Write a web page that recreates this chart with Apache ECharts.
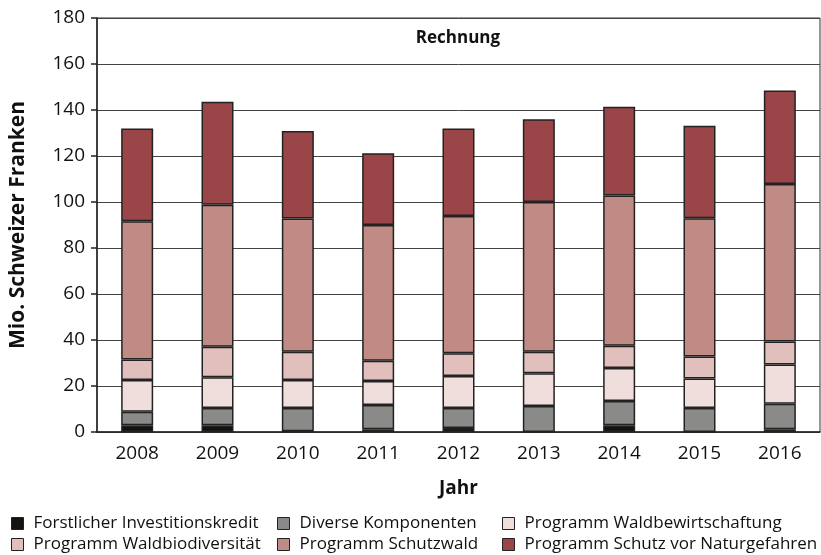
<!DOCTYPE html>
<html>
<head>
<meta charset="utf-8">
<script src="https://cdn.jsdelivr.net/npm/echarts@6/dist/echarts.min.js"></script>
<style>
  html, body { margin: 0; padding: 0; background: #fff; }
  #chart { width: 821px; height: 555px; }
</style>
</head>
<body>
<div id="chart"></div>
<script>
const years = ['2008', '2009', '2010', '2011', '2012', '2013', '2014', '2015', '2016'];
const investitionskredit = [2.9, 2.9, 0.3, 1.2, 1.7, 0, 2.9, 0, 1.2];
const diverse = [5.9, 7.5, 10.1, 10.5, 8.7, 11.3, 10.6, 10.4, 11.1];
const waldbewirtschaftung = [13.8, 13.4, 12.2, 10.5, 13.9, 14.2, 14.3, 12.9, 17.0];
const waldbiodiversitaet = [8.9, 13.3, 12.3, 8.8, 9.9, 9.4, 9.7, 9.5, 10.0];
const schutzwald = [60.1, 61.7, 57.9, 59.0, 59.7, 65.1, 65.3, 60.1, 68.5];
const naturgefahren = [40.4, 44.8, 38.1, 31.2, 38.1, 36.0, 38.6, 40.3, 40.7];

const font = '"Open Sans", sans-serif';
const chart = echarts.init(document.getElementById('chart'));

const seriesDefs = [
  { name: 'Forstlicher Investitionskredit', data: investitionskredit, color: '#13130f' },
  { name: 'Diverse Komponenten', data: diverse, color: '#8a8b89' },
  { name: 'Programm Waldbewirtschaftung', data: waldbewirtschaftung, color: '#f0dedd' },
  { name: 'Programm Waldbiodiversität', data: waldbiodiversitaet, color: '#e0bfbd' },
  { name: 'Programm Schutzwald', data: schutzwald, color: '#c08a85' },
  { name: 'Programm Schutz vor Naturgefahren', data: naturgefahren, color: '#9a4548' }
];

// legend grid: 3 columns x 2 rows, one legend per item
const legendCols = [11, 277, 502];
const legendRows = [515, 536];

const legends = seriesDefs.map((s, i) => ({
  left: legendCols[i % 3],
  top: legendRows[i < 3 ? 0 : 1],
  padding: 0,
  itemWidth: 12,
  itemHeight: 12,
  icon: 'rect',
  data: [s.name],
  textStyle: { fontFamily: font, fontSize: 17, color: '#111', padding: [0, 0, 0, 5] },
  itemStyle: { borderColor: '#222', borderWidth: 1 }
}));

chart.setOption({
  animation: false,
  title: {
    text: 'Rechnung',
    left: 453,
    top: 25,
    textAlign: 'center',
    textStyle: { fontFamily: font, fontSize: 17, fontWeight: 'bold', color: '#111' }
  },
  legend: legends,
  grid: {
    left: 93,
    right: 1,
    top: 18,
    bottom: 123,
    show: true,
    borderColor: '#333',
    borderWidth: 1
  },
  xAxis: {
    type: 'category',
    data: years,
    name: 'Jahr',
    nameLocation: 'middle',
    nameGap: 47,
    nameTextStyle: { fontFamily: font, fontSize: 19, fontWeight: 'bold', color: '#111' },
    axisLine: { lineStyle: { color: '#222', width: 1.5 } },
    axisTick: { length: 7, lineStyle: { color: '#222', width: 1.5 } },
    axisLabel: { fontFamily: font, fontSize: 19, color: '#111', margin: 12 }
  },
  yAxis: {
    type: 'value',
    min: 0,
    max: 180,
    interval: 20,
    name: 'Mio. Schweizer Franken',
    nameLocation: 'middle',
    nameGap: 68,
    nameTextStyle: { fontFamily: font, fontSize: 21, fontWeight: 'bold', color: '#111' },
    axisLine: { show: true, lineStyle: { color: '#222', width: 1.5 } },
    axisTick: { show: true, length: 6, lineStyle: { color: '#222', width: 1.5 } },
    axisLabel: { fontFamily: font, fontSize: 19, color: '#111', margin: 12 },
    splitLine: { lineStyle: { color: '#444', width: 1 } }
  },
  series: seriesDefs.map(s => ({
    name: s.name,
    type: 'bar',
    stack: 'total',
    data: s.data,
    barWidth: 32,
    itemStyle: { color: s.color, borderColor: '#222', borderWidth: 1.5 }
  }))
});
</script>
</body>
</html>
